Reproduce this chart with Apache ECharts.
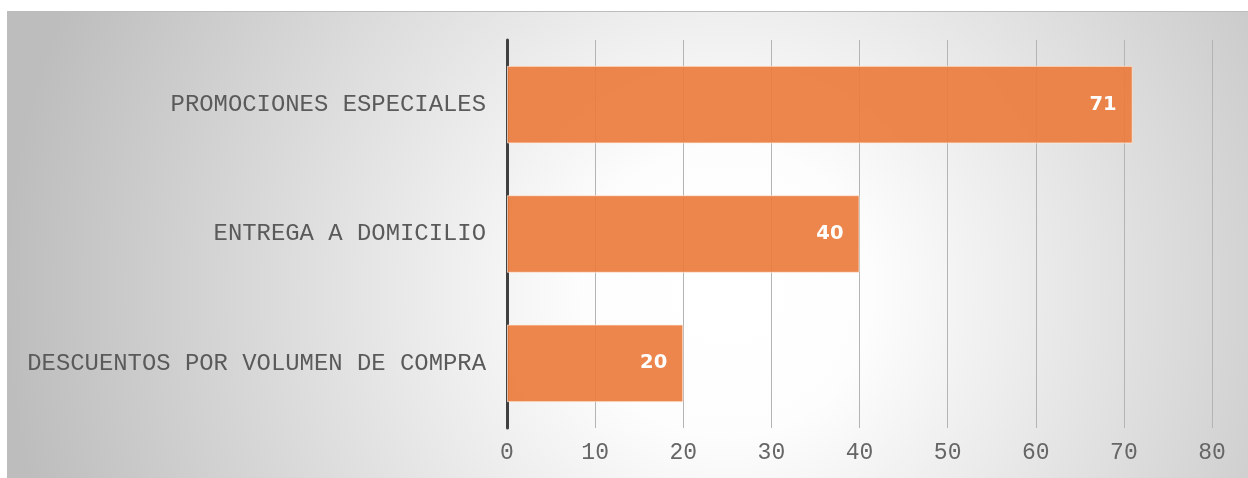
<!DOCTYPE html>
<html>
<head>
<meta charset="utf-8">
<script src="https://cdn.jsdelivr.net/npm/echarts@6/dist/echarts.min.js"></script>
<style>
  html, body { margin: 0; padding: 0; background: #ffffff; }
  #panel {
    position: absolute;
    left: 7px;
    top: 11px;
    width: 1241px;
    height: 466px;
    border-top: 1px solid #bdbdbd;
  }
  #chart { width: 100%; height: 100%; }
</style>
</head>
<body>
<div id="panel"><div id="chart"></div></div>
<script>
// Categories (top to bottom) and their values
const categories = [
  'PROMOCIONES ESPECIALES',
  'ENTREGA A DOMICILIO',
  'DESCUENTOS POR VOLUMEN DE COMPRA'
];
const values = [71, 40, 20];

// Value axis range
const axisMin = 0;
const axisMax = 80;
const axisStep = 10;

const chart = echarts.init(document.getElementById('chart'), null, { renderer: 'canvas' });

chart.setOption({
  animation: false,
  backgroundColor: {
    type: 'radial',
    x: 0.58,
    y: 0.6,
    r: 1.55,
    colorStops: [
      { offset: 0, color: '#ffffff' },
      { offset: 0.2, color: '#fdfdfd' },
      { offset: 1, color: '#bdbdbd' }
    ]
  },
  grid: {
    left: 500,
    right: 36,
    top: 28,
    bottom: 50,
    containLabel: false
  },
  xAxis: {
    type: 'value',
    min: axisMin,
    max: axisMax,
    interval: axisStep,
    axisLine: { show: false },
    axisTick: { show: false },
    splitLine: { show: true, lineStyle: { color: '#b4b4b4', width: 1 } },
    axisLabel: {
      margin: 13,
      color: '#666666',
      fontFamily: '"Liberation Mono", "Courier New", monospace',
      fontSize: 23
    }
  },
  yAxis: {
    type: 'category',
    inverse: true,
    data: categories,
    axisLine: { show: true, lineStyle: { color: '#404040', width: 3 } },
    axisTick: { show: false },
    splitLine: { show: false },
    axisLabel: {
      margin: 21,
      color: '#5a5a5a',
      fontFamily: '"Liberation Mono", "Courier New", monospace',
      fontSize: 23.9
    }
  },
  series: [{
    type: 'bar',
    data: values,
    barWidth: '60%',
    itemStyle: {
      color: 'rgba(234, 124, 62, 0.92)',
      borderColor: 'rgba(255, 235, 220, 0.7)',
      borderWidth: 1
    },
    label: {
      show: true,
      position: 'insideRight',
      distance: 16,
      color: '#ffffff',
      fontFamily: '"DejaVu Sans", Verdana, sans-serif',
      fontWeight: 'bold',
      fontSize: 19.5
    }
  }]
});
</script>
</body>
</html>
